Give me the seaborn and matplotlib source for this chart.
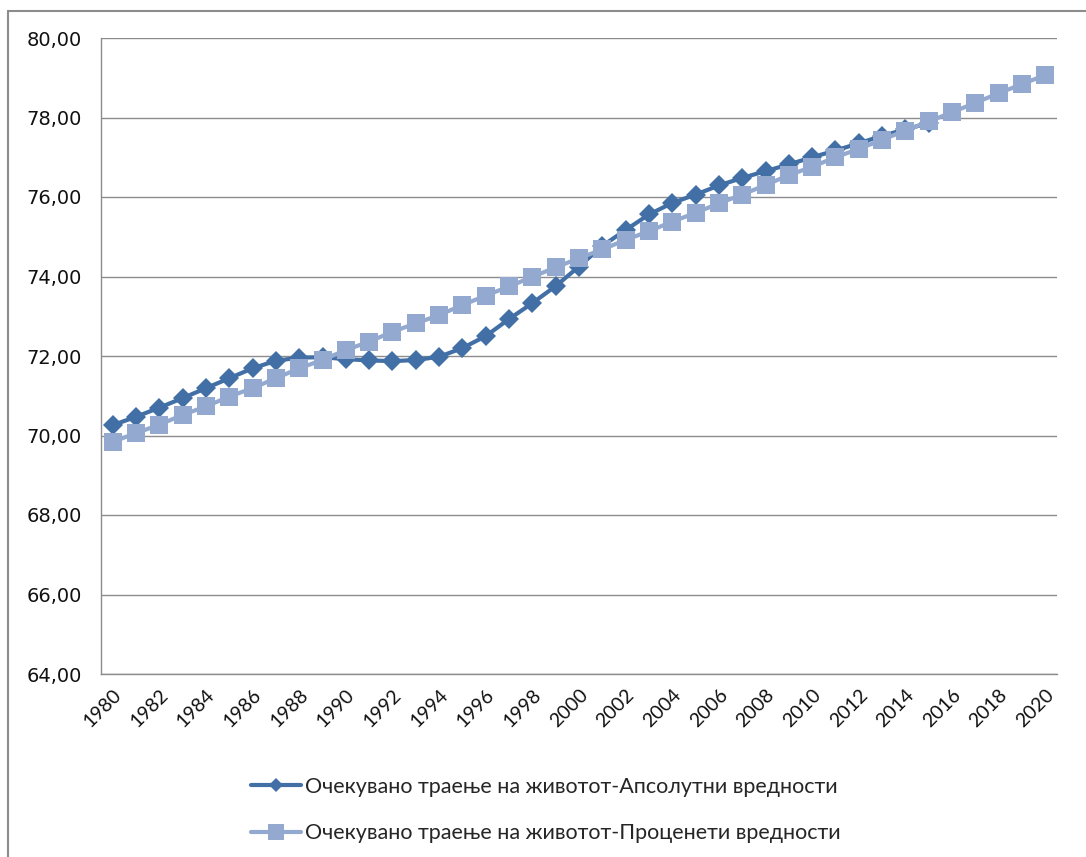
import matplotlib
matplotlib.use("Agg")
import matplotlib.pyplot as plt
from matplotlib.lines import Line2D
from matplotlib.ticker import FuncFormatter
import numpy as np
import pandas as pd
import seaborn as sns

# Life expectancy: absolute values (1980-2015) and estimated values (1980-2020)
years_abs = list(range(1980, 2016))
life_abs = [70.26, 70.47, 70.70, 70.94, 71.19, 71.44, 71.69, 71.88, 71.96, 71.97,
            71.92, 71.89, 71.87, 71.90, 71.98, 72.20, 72.50, 72.93, 73.33, 73.76,
            74.25, 74.77, 75.17, 75.56, 75.85, 76.06, 76.29, 76.48, 76.65, 76.82,
            77.00, 77.17, 77.35, 77.54, 77.70, 77.86]

years_est = list(range(1980, 2021))
life_est = [69.84, 70.06, 70.27, 70.52, 70.73, 70.98, 71.19, 71.44, 71.69, 71.90,
            72.15, 72.36, 72.61, 72.82, 73.03, 73.28, 73.52, 73.75, 73.99, 74.23,
            74.46, 74.68, 74.92, 75.14, 75.38, 75.60, 75.84, 76.06, 76.30, 76.55,
            76.76, 77.00, 77.21, 77.44, 77.67, 77.90, 78.13, 78.37, 78.61, 78.84,
            79.07]

label_abs = "Очекувано траење на животот-Апсолутни вредности"
label_est = "Очекувано траење на животот-Проценети вредности"

x_ticks = list(range(1980, 2021, 2))
y_ticks = [64, 66, 68, 70, 72, 74, 76, 78, 80]

col_abs = "#4270A6"
col_est = "#94A9CF"

sns.set_theme(style="white")
plt.rcParams["font.family"] = ["DejaVu Sans"]

fig = plt.figure(figsize=(10.86, 8.57), dpi=100)
ax = fig.add_axes([101 / 1086, 1 - 674 / 857, (1057 - 101) / 1086, (674 - 38) / 857])

df_abs = pd.DataFrame({"year": years_abs, "value": life_abs})
df_est = pd.DataFrame({"year": years_est, "value": life_est})

sns.lineplot(data=df_abs, x="year", y="value", ax=ax, color=col_abs, lw=3.0,
             marker="D", markersize=10, markeredgewidth=0, sort=False, zorder=3)
sns.lineplot(data=df_est, x="year", y="value", ax=ax, color=col_est, lw=3.0,
             marker="s", markersize=13.5, markeredgewidth=0, sort=False, zorder=4)

ax.set_xlim(1979.5, 2020.5)
ax.set_ylim(64, 80)
ax.set_yticks(y_ticks)
ax.yaxis.set_major_formatter(FuncFormatter(lambda v, p: f"{v:.2f}".replace(".", ",")))
ax.set_xticks(x_ticks)
ax.set_xticklabels([str(y) for y in x_ticks], rotation=45, ha="right",
                   rotation_mode="anchor", fontfamily="Lato", fontsize=14)
for lbl in ax.get_yticklabels():
    lbl.set_fontsize(14)
    lbl.set_color("#111111")
ax.tick_params(axis="y", length=0, pad=14)
ax.tick_params(axis="x", length=0, pad=9, colors="#111111")
ax.set_xlabel("")
ax.set_ylabel("")

ax.grid(axis="y", color="#8c8c8c", lw=1.0)
ax.grid(axis="x", visible=False)
for side in ("top", "right"):
    ax.spines[side].set_visible(False)
for side in ("left", "bottom"):
    ax.spines[side].set_color("#8c8c8c")
    ax.spines[side].set_linewidth(1.0)

handles = [
    Line2D([], [], color=col_abs, lw=3.0, marker="D", markersize=7.5, markeredgewidth=0),
    Line2D([], [], color=col_est, lw=3.0, marker="s", markersize=11, markeredgewidth=0),
]
fig.legend(handles, [label_abs, label_est], loc="center", ncol=1,
           bbox_to_anchor=(546 / 1086, 1 - 810 / 857), frameon=False,
           prop={"family": "Lato", "size": 15.5}, handlelength=2.3,
           handletextpad=0.2, labelspacing=1.25)

# chart frame (top and left edges)
fig.add_artist(Line2D([8 / 1086, 1.0], [1 - 11 / 857, 1 - 11 / 857],
                      transform=fig.transFigure, color="#8c8c8c", lw=1.5))
fig.add_artist(Line2D([8 / 1086, 8 / 1086], [0.0, 1 - 11 / 857],
                      transform=fig.transFigure, color="#8c8c8c", lw=1.5))

fig.savefig("out.png", dpi=100, facecolor="white")
